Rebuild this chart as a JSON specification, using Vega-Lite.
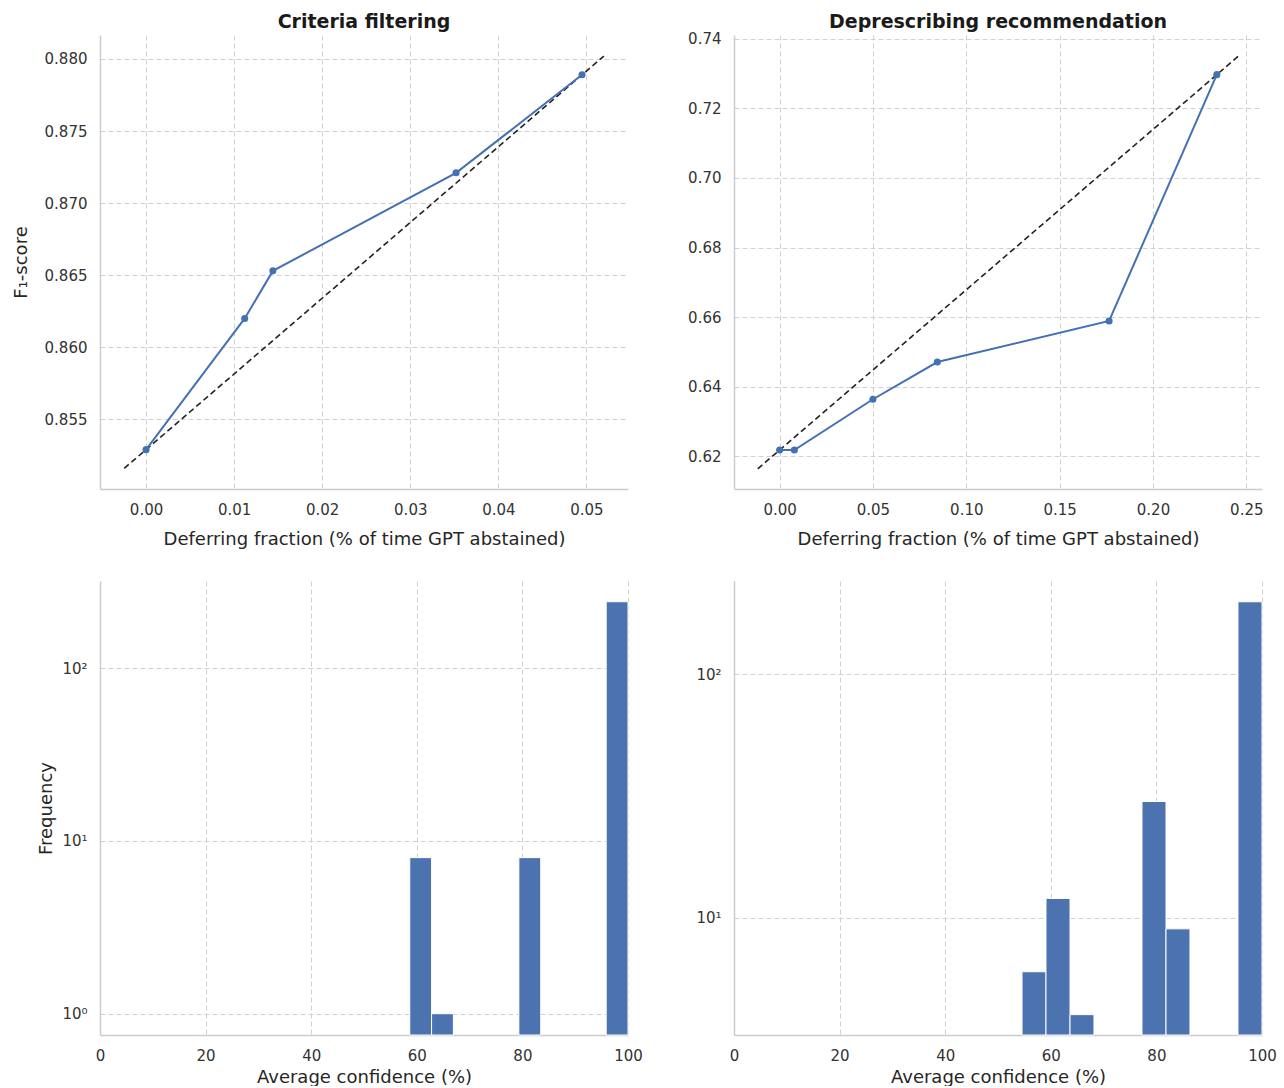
{
  "$schema": "https://vega.github.io/schema/vega-lite/v6.json",
  "background": "white",
  "padding": {"left": 12, "top": 12, "right": 15, "bottom": 0},
  "datasets": {
    "cf": [
      {"x": 0, "y": 0.8529},
      {"x": 0.0112, "y": 0.8620},
      {"x": 0.0144, "y": 0.8653},
      {"x": 0.0352, "y": 0.8721},
      {"x": 0.0495, "y": 0.8789}
    ],
    "cf_ref": [
      {"x": -0.00248, "y": 0.8516},
      {"x": 0.05198, "y": 0.8802}
    ],
    "dr": [
      {"x": 0, "y": 0.6218},
      {"x": 0.0079, "y": 0.6218},
      {"x": 0.05, "y": 0.6364},
      {"x": 0.0845, "y": 0.6471},
      {"x": 0.1765, "y": 0.6589},
      {"x": 0.2342, "y": 0.7297}
    ],
    "dr_ref": [
      {"x": -0.01171, "y": 0.6164},
      {"x": 0.24591, "y": 0.7351}
    ],
    "cf_hist": [
      {"bin_start": 58.67, "bin_end": 62.8, "count": 8},
      {"bin_start": 62.8, "bin_end": 66.93, "count": 1},
      {"bin_start": 79.33, "bin_end": 83.47, "count": 8},
      {"bin_start": 95.87, "bin_end": 100, "count": 242}
    ],
    "dr_hist": [
      {"bin_start": 54.55, "bin_end": 59.09, "count": 6},
      {"bin_start": 59.09, "bin_end": 63.64, "count": 12},
      {"bin_start": 63.64, "bin_end": 68.18, "count": 4},
      {"bin_start": 77.27, "bin_end": 81.82, "count": 30},
      {"bin_start": 81.82, "bin_end": 86.36, "count": 9},
      {"bin_start": 95.45, "bin_end": 100, "count": 198}
    ]
  },
  "columns": 2,
  "spacing": {"row": 92, "column": 106},
  "bounds": "flush",
  "concat": [
    {
      "title": {"text": "Criteria filtering", "offset": 3},
      "width": 528,
      "height": 454,
      "encoding": {
        "x": {"field": "x", "type": "quantitative",
              "scale": {"domain": [-0.00523, 0.05472], "nice": false, "zero": false},
              "axis": {"values": [0, 0.01, 0.02, 0.03, 0.04, 0.05], "format": ".2f", "title": "Deferring fraction (% of time GPT abstained)", "titlePadding": 13}},
        "y": {"field": "y", "type": "quantitative",
              "scale": {"domain": [0.85017, 0.88166], "nice": false, "zero": false},
              "axis": {"values": [0.855, 0.86, 0.865, 0.87, 0.875, 0.88], "format": ".3f", "title": "F₁-score", "titlePadding": 14}}
      },
      "layer": [
        {"data": {"name": "cf_ref"}, "mark": {"type": "line", "color": "#222222", "strokeDash": [6, 3.5], "strokeWidth": 1.6}},
        {"data": {"name": "cf"}, "mark": {"type": "line", "color": "#4470B4", "strokeWidth": 2, "point": {"filled": true, "size": 50, "color": "#4470B4", "opacity": 1}}}
      ]
    },
    {
      "title": {"text": "Deprescribing recommendation", "offset": 0},
      "width": 528,
      "height": 454,
      "encoding": {
        "x": {"field": "x", "type": "quantitative",
              "scale": {"domain": [-0.02443, 0.2584], "nice": false, "zero": false},
              "axis": {"values": [0, 0.05, 0.1, 0.15, 0.2, 0.25], "format": ".2f", "title": "Deferring fraction (% of time GPT abstained)", "titlePadding": 13}},
        "y": {"field": "y", "type": "quantitative",
              "scale": {"domain": [0.6106, 0.7411], "nice": false, "zero": false},
              "axis": {"values": [0.62, 0.64, 0.66, 0.68, 0.7, 0.72, 0.74], "format": ".2f", "title": null}}
      },
      "layer": [
        {"data": {"name": "dr_ref"}, "mark": {"type": "line", "color": "#222222", "strokeDash": [6, 3.5], "strokeWidth": 1.6}},
        {"data": {"name": "dr"}, "mark": {"type": "line", "color": "#4470B4", "strokeWidth": 2, "point": {"filled": true, "size": 50, "color": "#4470B4", "opacity": 1}}}
      ]
    },
    {
      "width": 528,
      "height": 454,
      "data": {"name": "cf_hist"},
      "mark": {"type": "bar", "color": "#4C72B0", "stroke": "white", "strokeWidth": 1},
      "encoding": {
        "x": {"field": "bin_start", "type": "quantitative",
              "scale": {"domain": [0, 100], "nice": false, "zero": false},
              "axis": {"values": [0, 20, 40, 60, 80, 100], "format": "d", "title": "Average confidence (%)", "titlePadding": 5}},
        "x2": {"field": "bin_end"},
        "y": {"field": "count", "type": "quantitative",
              "scale": {"type": "log", "domain": [0.753, 319], "nice": false},
              "axis": {"values": [1, 10, 100], "labelExpr": "datum.value == 1 ? '10⁰' : datum.value == 10 ? '10¹' : '10²'", "title": "Frequency", "titlePadding": 6}},
        "y2": {"datum": 0.753}
      }
    },
    {
      "width": 528,
      "height": 454,
      "data": {"name": "dr_hist"},
      "mark": {"type": "bar", "color": "#4C72B0", "stroke": "white", "strokeWidth": 1},
      "encoding": {
        "x": {"field": "bin_start", "type": "quantitative",
              "scale": {"domain": [0, 100], "nice": false, "zero": false},
              "axis": {"values": [0, 20, 40, 60, 80, 100], "format": "d", "title": "Average confidence (%)", "titlePadding": 5}},
        "x2": {"field": "bin_end"},
        "y": {"field": "count", "type": "quantitative",
              "scale": {"type": "log", "domain": [3.3, 241], "nice": false},
              "axis": {"values": [10, 100], "labelExpr": "datum.value == 10 ? '10¹' : '10²'", "title": null}},
        "y2": {"datum": 3.3}
      }
    }
  ],
  "config": {
    "font": "DejaVu Sans",
    "view": {"stroke": null},
    "axis": {
      "domainColor": "#cccccc",
      "domainWidth": 1.5,
      "gridColor": "#d0d0d0",
      "gridDash": [5, 3],
      "gridWidth": 1,
      "ticks": false,
      "labelFontSize": 15,
      "labelColor": "#333333",
      "labelFlush": false,
      "labelOverlap": false,
      "labelPadding": 13,
      "titleFontSize": 18,
      "titleFontWeight": "normal",
      "titleColor": "#262626",
      "titlePadding": 12
    },
    "title": {"fontSize": 19, "fontWeight": "bold", "color": "#1a1a1a"}
  }
}
